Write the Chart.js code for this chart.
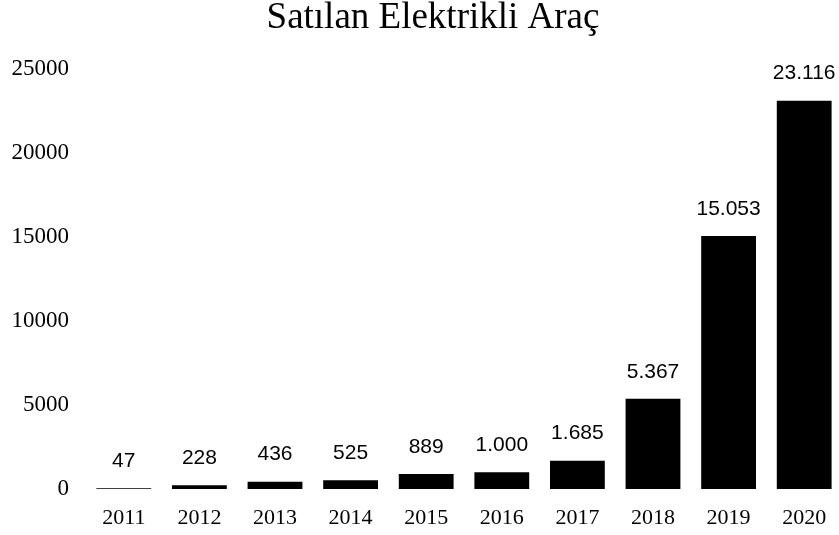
<!DOCTYPE html>
<html>
<head>
<meta charset="utf-8">
<script src="https://cdn.jsdelivr.net/npm/chart.js@4"></script>
<style>
  html, body { margin: 0; padding: 0; background: #fff; overflow: hidden; }
  #wrap { width: 866px; height: 535px; }
</style>
</head>
<body>
<div id="wrap"><canvas id="evChart" width="866" height="535"></canvas></div>
<script>
// Satılan elektrikli araç sayıları (yıllara göre)
var chartTitle = 'Satılan Elektrikli Araç';
var years = ['2011', '2012', '2013', '2014', '2015', '2016', '2017', '2018', '2019', '2020'];
var sales = [47, 228, 436, 525, 889, 1000, 1685, 5367, 15053, 23116];
var yTicks = [0, 5000, 10000, 15000, 20000, 25000];

function dotted(n) {
  return String(n).replace(/\B(?=(\d{3})+(?!\d))/g, '.');
}

// value labels above the bars (no datalabels plugin available offline)
var valueLabels = {
  id: 'valueLabels',
  afterDatasetsDraw: function (chart, args, opts) {
    var ctx = chart.ctx;
    var meta = chart.getDatasetMeta(0);
    ctx.save();
    ctx.font = opts.font;
    ctx.fillStyle = '#000';
    ctx.textAlign = 'center';
    ctx.textBaseline = 'middle';
    meta.data.forEach(function (bar, i) {
      ctx.fillText(dotted(sales[i]), bar.x, bar.y - opts.gap);
    });
    ctx.restore();
  }
};

// title centred on the whole canvas, not on the plot box
var pageTitle = {
  id: 'pageTitle',
  afterDraw: function (chart, args, opts) {
    var ctx = chart.ctx;
    ctx.save();
    ctx.font = opts.font;
    ctx.fillStyle = '#000';
    ctx.textAlign = 'center';
    ctx.textBaseline = 'alphabetic';
    ctx.fillText(chartTitle, chart.width / 2, opts.baseline);
    ctx.restore();
  }
};

new Chart(document.getElementById('evChart'), {
  type: 'bar',
  data: {
    labels: years,
    datasets: [{
      data: sales,
      backgroundColor: '#000',
      borderWidth: 0,
      barPercentage: 0.725,
      categoryPercentage: 1
    }]
  },
  options: {
    responsive: false,
    animation: false,
    layout: { padding: { left: 0, right: 24, top: 69, bottom: 0 } },
    plugins: {
      legend: { display: false },
      tooltip: { enabled: false },
      title: { display: false },
      pageTitle: {
        font: '37px "Liberation Serif"',
        baseline: 28
      },
      valueLabels: {
        font: '21px "Liberation Sans"',
        gap: 27
      }
    },
    scales: {
      x: {
        afterFit: function (axis) { axis.height = 46; },
        grid: { display: false, drawTicks: false },
        border: { display: false },
        ticks: {
          color: '#000',
          padding: 16,
          font: { family: 'Liberation Serif', size: 22 }
        }
      },
      y: {
        min: 0,
        max: 25000,
        afterBuildTicks: function (axis) {
          axis.ticks = yTicks.map(function (v) { return { value: v }; });
        },
        afterFit: function (axis) { axis.width = 86; },
        grid: { display: false, drawTicks: false },
        border: { display: false },
        ticks: {
          color: '#000',
          padding: 17,
          font: { family: 'Liberation Serif', size: 23 },
          callback: function (v) { return String(v); }
        }
      }
    }
  },
  plugins: [valueLabels, pageTitle]
});
</script>
</body>
</html>
